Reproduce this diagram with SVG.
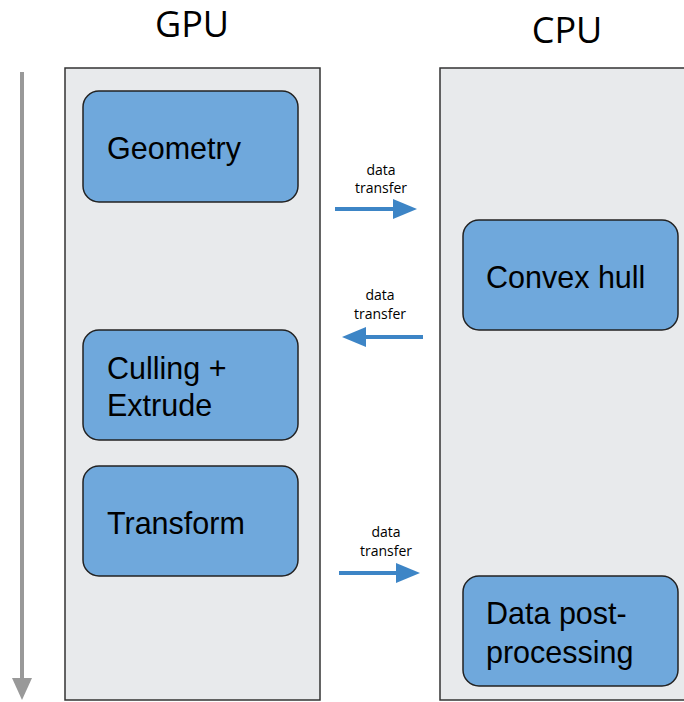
<svg xmlns="http://www.w3.org/2000/svg" width="684" height="702" viewBox="0 0 684 702">
<style>
.panel{fill:#e8eaec;stroke:#333;stroke-width:1.5}
.box{fill:#6fa8dc;stroke:#222;stroke-width:1.5}
.lbl{font-family:"Liberation Sans",Arial,sans-serif;font-size:30.5px;fill:#000}
.title{font-family:"Open Sans","Noto Sans",sans-serif;font-size:36px;fill:#000;text-anchor:middle}
.dt{font-family:"Open Sans","Noto Sans",sans-serif;font-size:14px;fill:#000;text-anchor:middle}
.conn{stroke:#3d85c6;stroke-width:4;fill:none}
</style>
<defs>
<marker id="bh" markerWidth="6" markerHeight="5" refX="0" refY="2.5" orient="auto" markerUnits="strokeWidth">
<path d="M0,0 L6,2.5 L0,5 Z" fill="#3d85c6"/>
</marker>
</defs>
<rect width="684" height="702" fill="#fff"/>
<text class="title" x="192" y="37">GPU</text>
<text class="title" x="567" y="43">CPU</text>
<g id="timeline">
<line x1="22" y1="72" x2="22" y2="680" stroke="#999" stroke-width="4"/>
<path d="M12,678 L32,678 L22,700 Z" fill="#999"/>
</g>
<g id="gpu-panel"><rect class="panel" x="65" y="68" width="255" height="632"/></g>
<g id="cpu-panel"><rect class="panel" x="440" y="68" width="250" height="632"/></g>
<g id="geometry"><rect class="box" x="83" y="91" width="215" height="111" rx="16"/><text class="lbl" x="107" y="159">Geometry</text></g>
<g id="convex-hull"><rect class="box" x="463" y="220" width="215" height="110" rx="16"/><text class="lbl" x="486" y="288">Convex hull</text></g>
<g id="culling"><rect class="box" x="83" y="330" width="215" height="110" rx="16"/><text class="lbl" x="107" y="379">Culling +</text><text class="lbl" x="107" y="416">Extrude</text></g>
<g id="transform"><rect class="box" x="83" y="466" width="215" height="110" rx="16"/><text class="lbl" x="107" y="534">Transform</text></g>
<g id="post"><rect class="box" x="463" y="576" width="215" height="110" rx="16"/><text class="lbl" x="486" y="624">Data post-</text><text class="lbl" x="486" y="663">processing</text></g>
<g id="connectors">
<line class="conn" x1="335" y1="209" x2="393" y2="209" marker-end="url(#bh)"/>
<text class="dt" x="381" y="175">data</text><text class="dt" x="381" y="193">transfer</text>
<line class="conn" x1="423" y1="337" x2="366" y2="337" marker-end="url(#bh)"/>
<text class="dt" x="380" y="300">data</text><text class="dt" x="380" y="319">transfer</text>
<line class="conn" x1="339" y1="573" x2="396" y2="573" marker-end="url(#bh)"/>
<text class="dt" x="386" y="537">data</text><text class="dt" x="386" y="556">transfer</text>
</g>
</svg>
